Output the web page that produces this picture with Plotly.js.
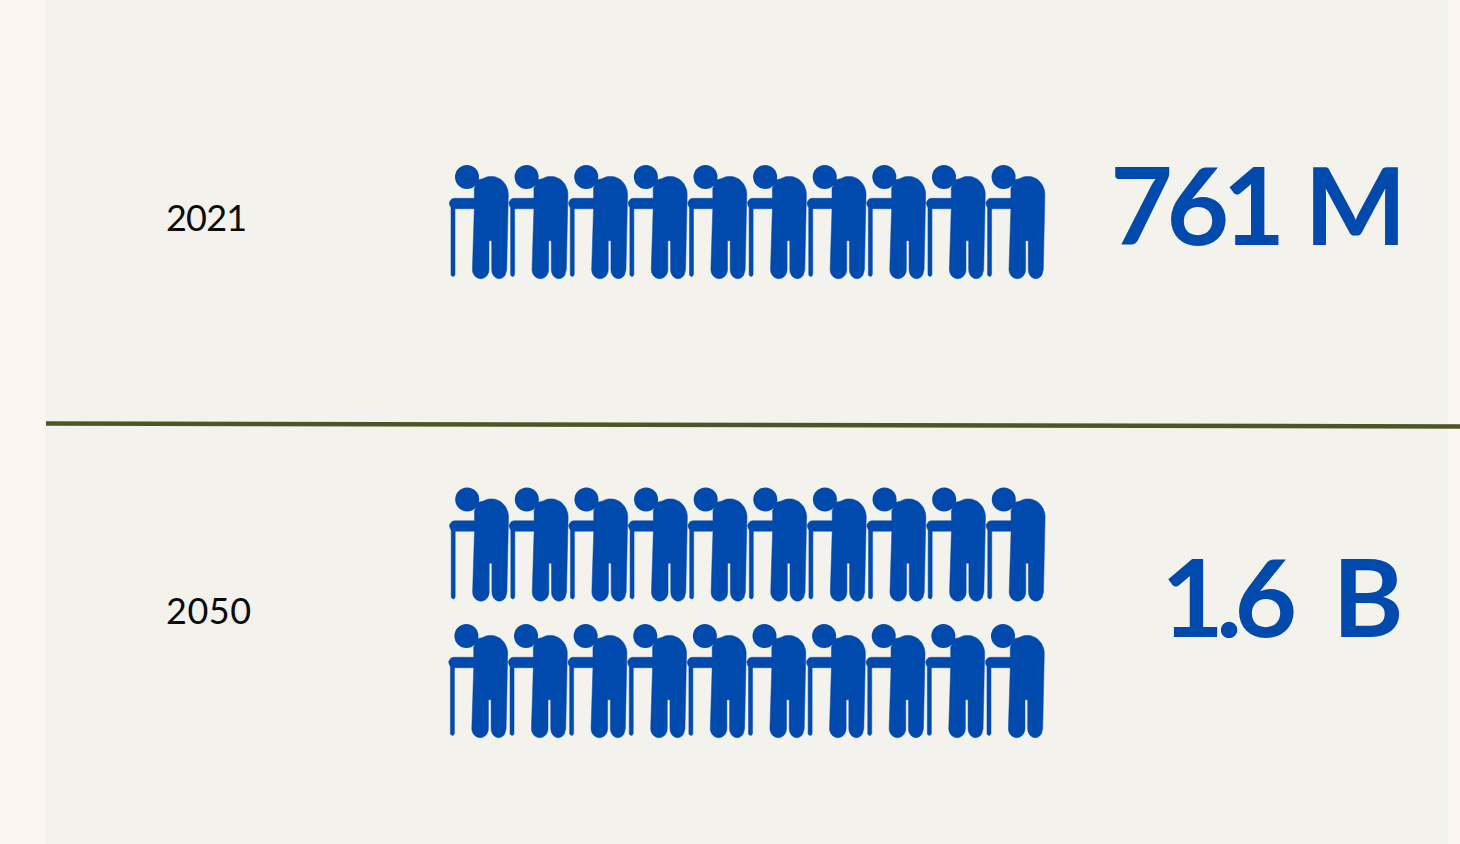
<!DOCTYPE html>
<html>
<head>
<meta charset="utf-8">
<title>Population aged 65 and over</title>
<script src="https://cdn.plot.ly/plotly-3.0.1.min.js"></script>
<style>html,body{margin:0;padding:0;background:#fbf6f1;overflow:hidden}#chart{width:1460px;height:844px}</style>
</head>
<body>
<div id="chart"></div>
<script>
// Figures shown on the right of each row and the number of people icons for them
const years = ["2021", "2050"];
const totals = ["761 M", "1.6 B"];
const iconCounts = [10, 20];

const BLUE = "#004aad", PAGE = "#fbf6f1", PANEL = "#f3f2ed", RULE = "#4d5526";
const PER_ROW = 10, PITCH = 59.62;

// Head position of the first icon in every row of icons
const rowOrigins = [[467, 177], [467.2, 499.5], [466.4, 636]];
const rowsOfYear = [[0], [1, 2]];
const yearLabelY = [222, 615];
const totalLabelX = [1400, 1396];
const totalLabelY = [218, 610];

// Letter and word spacing per label, in pixels
const spacing = {
  "761 M": [-6.5, 6],
  "1.6 B": [-7.5, 24],
  "2021": [-0.8, 0],
  "2050": [0.5, 0]
};

function arc(cx, cy, rx, ry, a0, a1, n) {
  const pts = [];
  for (let i = 0; i <= n; i++) {
    const a = (a0 + (a1 - a0) * i / n) * Math.PI / 180;
    pts.push([cx + rx * Math.cos(a), cy + ry * Math.sin(a)]);
  }
  return pts;
}

// Outline of a stooped figure, relative to the centre of its head
const bodyOutline = [
  [7.3, 11], [11.3, 2.7],
  ...arc(24.2, 17.6, 17.1, 18.3, -120, 0, 16),
  [39.7, 92.7],
  ...arc(32.2, 92.7, 7.5, 9, 0, 180, 10),
  [24.7, 63.7], [22, 63.7],
  ...arc(13.7, 92.7, 8.3, 9, 0, 180, 10),
  [7.3, 31.7], [-12.5, 31.7],
  ...arc(-12.5, 26.5, 5.2, 5.2, 90, 270, 10),
  [7.3, 21.3]
];
const caneOutline = [
  [-16, 30], [-12, 30], [-12, 97.5],
  ...arc(-14, 97.5, 2, 2, 0, 180, 6),
  [-16, 30]
];

const iconX = [], iconY = [], headX = [], headY = [];
years.forEach((year, i) => {
  for (let k = 0; k < iconCounts[i]; k++) {
    const origin = rowOrigins[rowsOfYear[i][Math.floor(k / PER_ROW)]];
    const cx = origin[0] + (k % PER_ROW) * PITCH, cy = origin[1];
    headX.push(cx); headY.push(cy);
    [bodyOutline, caneOutline].forEach(shape => {
      shape.forEach(p => { iconX.push(cx + p[0]); iconY.push(cy + p[1]); });
      iconX.push(cx + shape[0][0]); iconY.push(cy + shape[0][1]);
      iconX.push(null); iconY.push(null);
    });
  }
});

const traces = [
  { type: "scatter", mode: "lines", x: iconX, y: iconY, fill: "toself", fillcolor: BLUE,
    line: { color: BLUE, width: 0.5 }, hoverinfo: "skip", showlegend: false },
  { type: "scatter", mode: "markers", x: headX, y: headY,
    marker: { color: BLUE, size: 24, line: { width: 0 } }, hoverinfo: "skip", showlegend: false },
  { type: "scatter", mode: "text", x: years.map(() => 166), y: yearLabelY, text: years,
    textposition: "middle right", textfont: { family: "Lato, sans-serif", size: 36, color: "#0a0a0a", weight: 400 },
    hoverinfo: "skip", showlegend: false },
  { type: "scatter", mode: "text", x: totalLabelX, y: totalLabelY, text: totals,
    textposition: "middle left", textfont: { family: "Lato, sans-serif", size: 108, color: BLUE, weight: 700 },
    hoverinfo: "skip", showlegend: false }
];

const layout = {
  width: 1460, height: 844,
  margin: { l: 0, r: 0, t: 0, b: 0 },
  paper_bgcolor: PAGE, plot_bgcolor: PAGE,
  xaxis: { range: [0, 1460], visible: false, fixedrange: true },
  yaxis: { range: [844, 0], visible: false, fixedrange: true },
  showlegend: false,
  shapes: [
    { type: "rect", layer: "below", x0: 45, x1: 1448, y0: 0, y1: 844, fillcolor: PANEL, line: { width: 0 } },
    { type: "line", layer: "below", x0: 46, x1: 1460, y0: 423.5, y1: 426.5, line: { color: RULE, width: 4.5 } }
  ]
};

Plotly.newPlot("chart", traces, layout, { displayModeBar: false, staticPlot: true }).then(() => {
  document.querySelectorAll(".textpoint text").forEach(node => {
    const s = spacing[node.textContent];
    if (s) {
      node.style.letterSpacing = s[0] + "px";
      node.style.wordSpacing = s[1] + "px";
    }
  });
});
</script>
</body>
</html>
